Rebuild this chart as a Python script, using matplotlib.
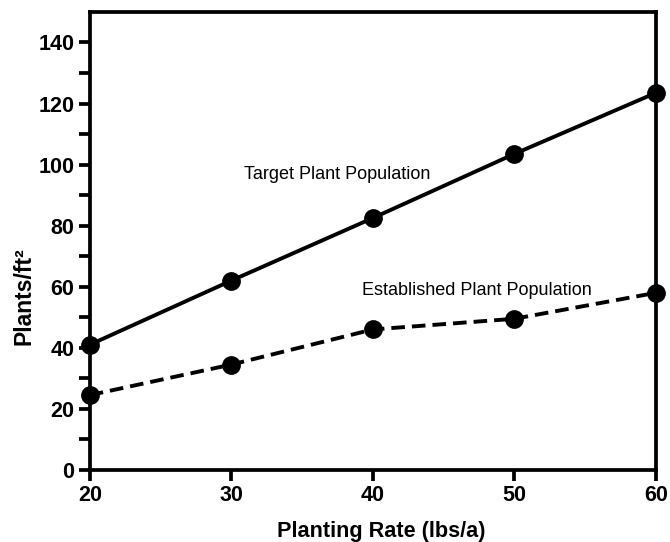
import matplotlib
matplotlib.use('Agg')
import matplotlib.pyplot as plt
import numpy as np

plt.rcParams['font.family'] = ['Liberation Sans', 'DejaVu Sans']

rate = [20, 30, 40, 50, 60]
target = [41, 62, 82.5, 103.5, 123.5]
established = [24.5, 34.5, 46, 49.5, 58]

fig = plt.figure(figsize=(6.7, 5.42), dpi=100)
ax = fig.add_axes([0.134, 0.133, 0.845, 0.845])

ax.plot(rate, target, '-', color='black', lw=2.8, marker='o', ms=12.5, clip_on=False, zorder=3)
ax.plot(rate, established, '--', color='black', lw=2.8, marker='o', ms=12.5, clip_on=False,
        dashes=(3.5, 1.8), zorder=3)

ax.text(30.9, 96.6, 'Target Plant Population', fontsize=13, va='center', ha='left')
ax.text(39.2, 58.6, 'Established Plant Population', fontsize=13, va='center', ha='left')

ax.set_xlim(20, 60)
ax.set_ylim(0, 150)
ax.set_xticks([20, 30, 40, 50, 60])
ax.set_yticks(np.arange(0, 141, 20))
ax.set_yticks(np.arange(10, 141, 20), minor=True)

for s in ax.spines.values():
    s.set_linewidth(2.7)

ax.tick_params(axis='both', which='both', direction='out', length=8, width=2.7, labelsize=15.5)
ax.tick_params(axis='x', pad=3)
ax.tick_params(axis='y', pad=3)
for lab in ax.get_xticklabels() + ax.get_yticklabels():
    lab.set_fontweight('bold')

ax.set_xlabel('Planting Rate (lbs/a)', fontsize=15.6, fontweight='bold')
ax.xaxis.set_label_coords(0.514, -0.112)
ax.set_ylabel('Plants/ft²', fontsize=16.5, fontweight='bold')
ax.yaxis.set_label_coords(-0.096, 0.38)

plt.savefig('out.png', dpi=100)
